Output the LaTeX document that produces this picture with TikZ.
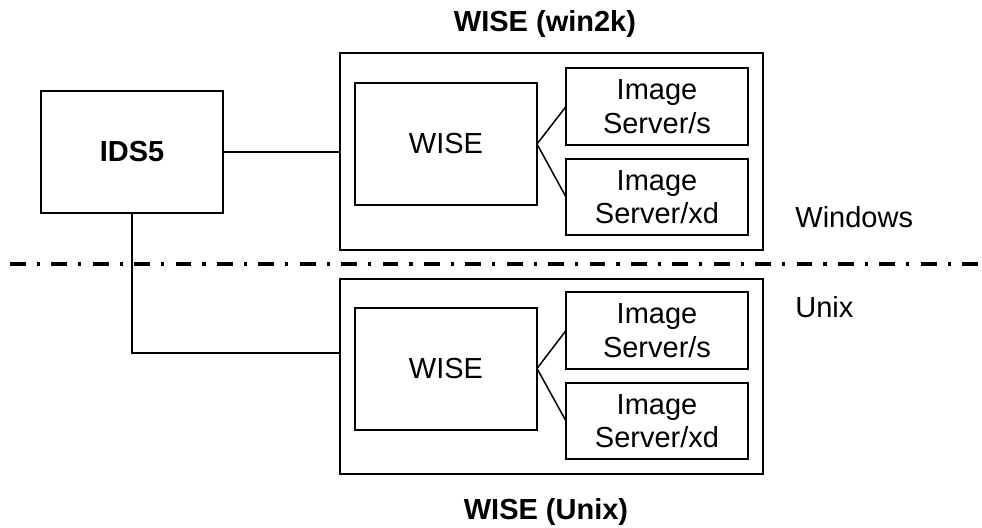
\documentclass[tikz,border=0pt]{standalone}
\usepackage{fontspec}
\setmainfont{Liberation Sans}

\begin{document}
\begin{tikzpicture}[x=0.5pt, y=-0.5pt,
    box/.style={draw, line width=1pt, inner sep=0pt, outer sep=0pt, align=center,
      font=\fontsize{14.5pt}{16.7pt}\selectfont},
    group/.style={box, minimum width=211.5pt},
    wise/.style={box, minimum width=91pt, minimum height=61pt},
    server/.style={box, minimum width=91pt, minimum height=38.25pt},
    label/.style={inner sep=0pt, anchor=base, font=\fontsize{14.5pt}{16.7pt}\selectfont},
    link/.style={line width=0.75pt}]
    \useasboundingbox (0, 0) rectangle (982, 527);

    \node [box, minimum width=91.3pt, minimum height=61pt, font=\fontsize{14.5pt}{16.7pt}\bfseries] (ids) at (132, 152) {IDS5};

    \node [group, minimum height=98.5pt] (wingroup) at (551.5, 151.5) {};
    \node [wise] (winwise) at (446, 144) {WISE};
    \node [server] (winsrvs) at (657, 106.5) {Image\\Server/s};
    \node [server] (winsrvxd) at (657, 197) {Image\\Server/xd};

    \node [group, minimum height=97.5pt] (unixgroup) at (551.5, 376.5) {};
    \node [wise] (unixwise) at (446, 368.5) {WISE};
    \node [server] (unixsrvs) at (657, 330.5) {Image\\Server/s};
    \node [server] (unixsrvxd) at (657, 421) {Image\\Server/xd};

    \node [label, font=\fontsize{14.5pt}{16.7pt}\bfseries] (wintitle) at (545, 31) {WISE (win2k)};
    \node [label, font=\fontsize{14.5pt}{16.7pt}\bfseries] (unixtitle) at (546, 519) {WISE (Unix)};
    \node [label, anchor=base west] (windows) at (795, 227) {Windows};
    \node [label, anchor=base west] (unix) at (795, 317) {Unix};

    \coordinate (sepleft) at (10, 264);
    \coordinate (sepright) at (978, 264);
    \coordinate (unixjoin) at (340, 353);
    \draw [line width=2pt, dash pattern=on 7.85pt off 5.5pt on 1.65pt off 5.7pt] (sepleft) -- (sepright);

    \draw [link] (ids.east) -- (ids.east -| wingroup.west);
    \draw [link] (ids.south) |- (unixjoin);
    \draw [link] (winwise.east) -- (winsrvs.west);
    \draw [link] (winwise.east) -- (winsrvxd.west);
    \draw [link] (unixwise.east) -- (unixsrvs.west);
    \draw [link] (unixwise.east) -- (unixsrvxd.west);
\end{tikzpicture}
\end{document}
